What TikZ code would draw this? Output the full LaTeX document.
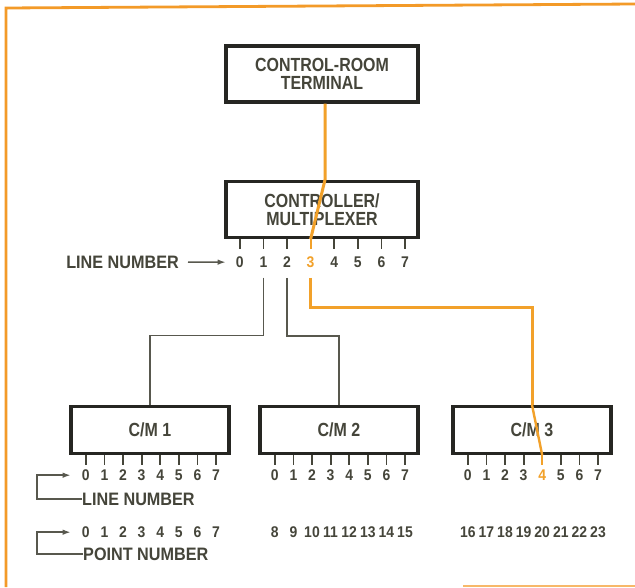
\documentclass[tikz,border=0pt]{standalone}
\usepackage{fontspec}
\setmainfont{Liberation Sans}[FakeStretch=0.9]
\newfontfamily\boxfont{Liberation Sans}[FakeStretch=0.84]
\usetikzlibrary{arrows.meta}
\definecolor{ink}{HTML}{45453A}
\definecolor{boxline}{HTML}{262622}
\definecolor{hot}{HTML}{F2A12A}
\definecolor{edge}{HTML}{F39A28}
\begin{document}
\begin{tikzpicture}[x=1pt, y=-1pt, >={Latex[length=8pt,width=5.5pt]},
    unit/.style={draw=boxline, line width=3.4pt, fill=white, minimum width=192pt, minimum height=56pt, align=center, text=ink, font=\boxfont\fontsize{19}{18.5}\selectfont\bfseries},
    cmbox/.style={unit, minimum width=158pt, minimum height=47pt},
    num/.style={inner sep=0pt, text=ink, font=\fontsize{15.5}{15.5}\selectfont\bfseries},
    lbl/.style={inner sep=0pt, text=ink, font=\fontsize{18}{18}\selectfont\bfseries},
    wire/.style={draw=ink!90, line width=1.5pt},
    hotwire/.style={draw=hot, line width=3pt},
    pin/.style={line width=1.8pt}]

    \useasboundingbox (0,0) rectangle (635,587);
    \fill[white] (0,0) rectangle (635,587);
    \draw[edge, line width=2.8pt] (6,587) -- (6,8) -- (635,4);
    \draw[edge!70, line width=2pt] (463,586) -- (635,586);

    \node[unit] (term) at (322,74) {CONTROL-ROOM\\TERMINAL};
    \node[unit] (ctrl) at (322,209.5) {CONTROLLER/\\MULTIPLEXER};
    \node[cmbox] (cm1) at (150,430) {C/M 1};
    \node[cmbox] (cm2) at (339,430) {C/M 2};
    \node[cmbox] (cm3) at (532,430) {C/M 3};

    % line numbers of the controller
    \foreach \i/\col in {0/ink,1/ink,2/ink,3/hot,4/ink,5/ink,6/ink,7/ink} {
        \coordinate (ctrl-t\i) at ([xshift={15.5+23.6*\i}]ctrl.south west);
        \draw[pin, draw=\col] (ctrl-t\i) -- ++(0,10) coordinate (ctrl-p\i);
        \node[num, text=\col] (ctrl-n\i) at ([yshift=-13pt]ctrl-p\i) {\i};
    }

    % line and point numbers of the C/M units
    \foreach \b/\h/\k in {cm1/9/0,cm2/9/8,cm3/4/16} {
        \foreach \i in {0,...,7} {
            \ifnum\i=\h \def\pincol{hot}\else\def\pincol{ink}\fi
            \pgfmathtruncatemacro\pt{\k+\i}
            \coordinate (\b-t\i) at ([xshift={16.5+18.6*\i}]\b.south west);
            \draw[pin, draw=\pincol] (\b-t\i) -- ++(0,10) coordinate (\b-p\i);
            \node[num, text=\pincol] (\b-n\i) at ([yshift=-10pt]\b-p\i) {\i};
            \node[num] (pt\pt) at ([yshift=-57pt]\b-n\i) {\pt};
        }
    }

    \draw[wire] ([yshift=-10pt]ctrl-n1.south) -- ++(0,58) -| (cm1.north);
    \draw[wire] ([yshift=-10pt]ctrl-n2.south) -- ++(0,58) -| (cm2.north);
    \draw[hotwire] ([yshift=-10pt]ctrl-n3.south) -- ++(0,30) -| (cm3.north);
    \draw[hotwire] ([xshift=3pt]term.south) -- ([xshift=3pt]term.south |- ctrl.north) -- (ctrl-t3);
    \draw[hot, line width=2.4pt] (cm3.north) -- (cm3-t4);

    \node[lbl, anchor=east] (ctrl-lbl) at (179,262) {LINE NUMBER};
    \draw[wire, ->, shorten <=9pt, shorten >=10pt] (ctrl-lbl.east) -- (ctrl-n0.west);

    \node[lbl, anchor=west] (cm-lbl) at (82,499) {LINE NUMBER};
    \draw[wire, line width=1.8pt, ->, shorten >=11pt] (cm-lbl.west) -- ++(-45,0) |- (cm1-n0.west);
    \node[lbl, anchor=west] (pt-lbl) at (83,554) {POINT NUMBER};
    \draw[wire, line width=1.8pt, ->, shorten >=11pt] (pt-lbl.west) -- ++(-46,0) |- (pt0.west);
\end{tikzpicture}
\end{document}
